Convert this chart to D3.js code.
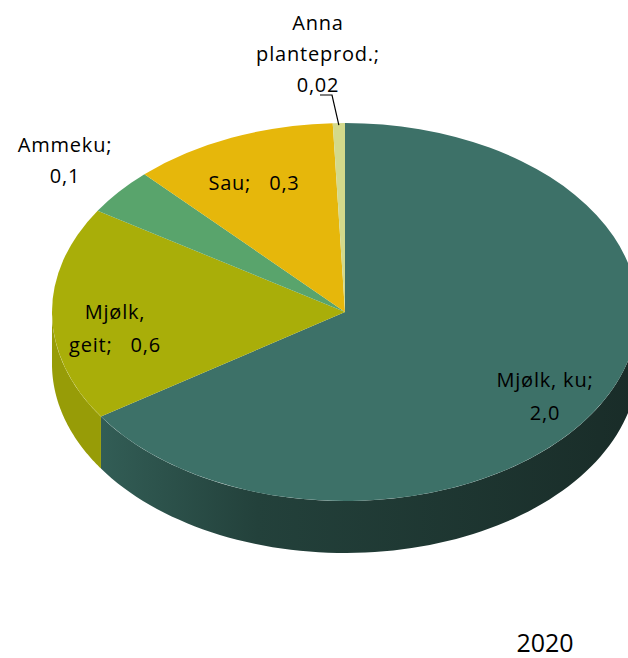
<!DOCTYPE html>
<html>
<head>
<meta charset="utf-8">
<script src="https://cdn.jsdelivr.net/npm/d3@7"></script>
<style>
  html, body { margin: 0; padding: 0; background: #fff; overflow: hidden; }
  svg text { font-family: "Open Sans", sans-serif; fill: #000; }
</style>
</head>
<body>
<svg id="chart"></svg>
<script>
const categories = ['Mjølk, ku', 'Mjølk, geit', 'Ammeku', 'Sau', 'Anna planteprod.'];
// slice sizes (labels show them rounded)
const values = [1.97, 0.55, 0.12, 0.34, 0.02];
const valueLabels = ['2,0', '0,6', '0,1', '0,3', '0,02'];
const title = '2020';

const width = 628, height = 658;
const cx = 345, cy = 312, rx = 293, ry = 189, depth = 52;

const topColors = ['#3d7168', '#a9ae09', '#59a46c', '#e6b70b', '#d3d98b'];
const sideColors = ['url(#kuSide)', '#979c07', '#4a8a5a', '#c29a09', '#b3b876'];

// label lines and placement per slice (layout only)
const labelLines = [
  [categories[0] + ';', valueLabels[0]],
  ['Mjølk,', 'geit;   ' + valueLabels[1]],
  [categories[2] + ';', valueLabels[2]],
  [categories[3] + ';   ' + valueLabels[3]],
  ['Anna', 'planteprod.;', valueLabels[4]]
];
const labelPos = [
  { x: 545, y: 387, dy: 33 },
  { x: 115, y: 319, dy: 33 },
  { x: 65, y: 152, dy: 31 },
  { x: 254, y: 190, dy: 0 },
  { x: 318, y: 30, dy: 31 }
];

const svg = d3.select('#chart')
  .attr('width', width)
  .attr('height', height);

const defs = svg.append('defs');
const grad = defs.append('linearGradient')
  .attr('id', 'kuSide')
  .attr('gradientUnits', 'userSpaceOnUse')
  .attr('x1', cx - rx).attr('x2', cx + rx)
  .attr('y1', 0).attr('y2', 0);
grad.append('stop').attr('offset', '0%').attr('stop-color', '#37665e');
grad.append('stop').attr('offset', '35%').attr('stop-color', '#23413b');
grad.append('stop').attr('offset', '100%').attr('stop-color', '#192c28');

const pie = d3.pie().sort(null).value(d => d)
  .startAngle(0).endAngle(2 * Math.PI);
const slices = pie(values);

const pt = (a, dz) => [cx + rx * Math.sin(a), cy - ry * Math.cos(a) + dz];

// side walls (front half only)
const sideG = svg.append('g');
slices.forEach((s, i) => {
  const a0 = Math.max(s.startAngle, Math.PI / 2);
  const a1 = Math.min(s.endAngle, 3 * Math.PI / 2);
  if (a1 <= a0) return;
  const n = 80;
  const angles = d3.range(n + 1).map(k => a0 + (a1 - a0) * k / n);
  const top = angles.map(a => pt(a, 0));
  const bottom = angles.slice().reverse().map(a => pt(a, depth));
  sideG.append('path')
    .attr('d', d3.line()(top.concat(bottom)) + 'Z')
    .attr('fill', sideColors[i]);
});

// top surface
const arc = d3.arc().innerRadius(0).outerRadius(rx);
svg.append('g')
  .attr('transform', `translate(${cx},${cy}) scale(1,${ry / rx})`)
  .selectAll('path')
  .data(slices)
  .enter()
  .append('path')
  .attr('d', arc)
  .attr('fill', (d, i) => topColors[i]);

// leader line for the small slice
const small = slices[4];
const mid = (small.startAngle + small.endAngle) / 2;
const edge = pt(mid, 0);
svg.append('path')
  .attr('d', d3.line()([[320, 95], [332, 95], [edge[0], edge[1] + 2]]))
  .attr('fill', 'none')
  .attr('stroke', '#000')
  .attr('stroke-width', 1.2);

// labels
slices.forEach((s, i) => {
  const p = labelPos[i];
  const t = svg.append('text')
    .attr('text-anchor', 'middle')
    .style('font-size', '20px')
    .style('letter-spacing', '0.8px')
    .attr('xml:space', 'preserve');
  labelLines[i].forEach((line, j) => {
    t.append('tspan')
      .attr('x', p.x)
      .attr('y', p.y + j * p.dy)
      .text(line);
  });
});

svg.append('text')
  .attr('x', 545)
  .attr('y', 652)
  .attr('text-anchor', 'middle')
  .style('font-size', '25px')
  .text(title);
</script>
</body>
</html>
